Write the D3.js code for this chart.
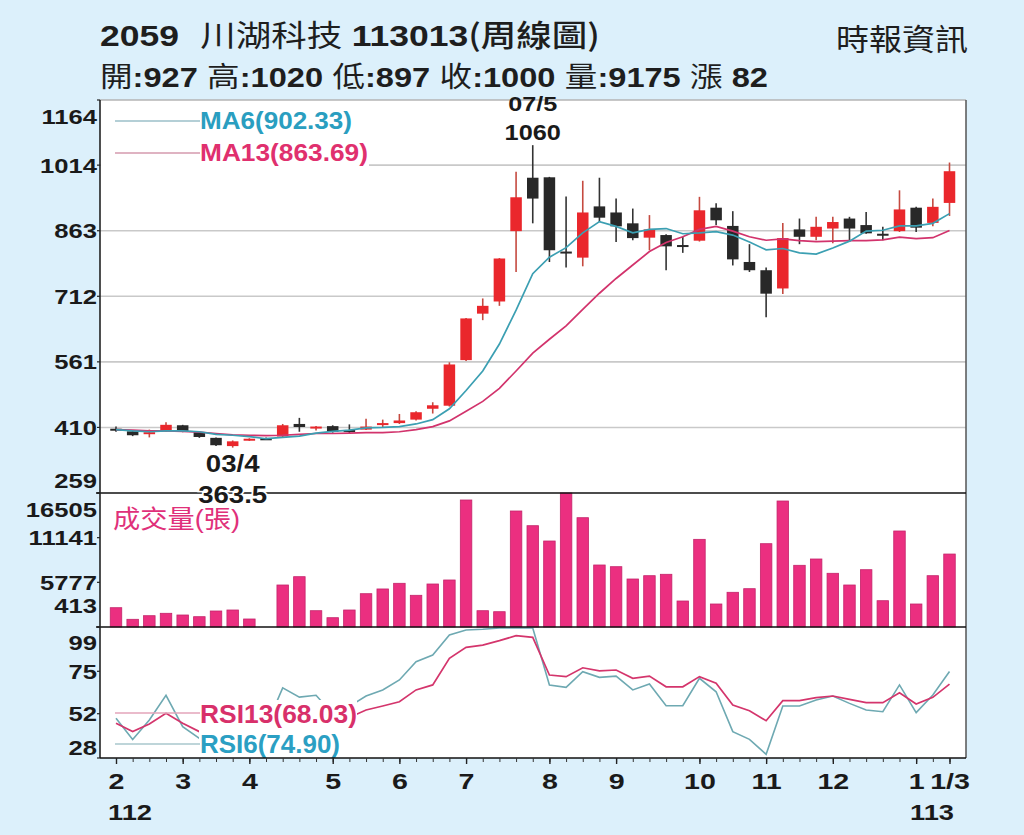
<!DOCTYPE html>
<html>
<head>
<meta charset="utf-8">
<script src="https://cdn.jsdelivr.net/npm/d3@7"></script>
<style>
  body { margin: 0; background: #dcf0fb; }
  svg { display: block; }
  text { font-family: "Liberation Sans", Arial, "Noto Sans CJK TC", sans-serif; }
</style>
</head>
<body>
<div id="chart"></div>
<script>
// weekly candles, Feb 2023 (112) .. Jan 2024 (113)
const weekOpen  = [407,401,396,401,415,399,386,367,380,385,389,418,409,413,403,405,416,420,428,453,460,565,672,700,862,985,986,815,801,919,905,880,847,853,830,840,916,874,791,772,730,866,849,868,891,876,856,862,916,881,927];
const weekHigh  = [412,403,405,422,416,400,387,380,385,387,418,432,413,415,417,430,428,441,447,468,560,662,707,800,999,1060,987,942,978,985,937,914,899,855,849,941,926,908,832,778,881,891,895,895,895,906,872,956,918,937,1020];
const weekLow   = [400,390,387,400,399,386,367,363.5,379,383,388,400,403,398,397,404,411,418,426,442,458,563,657,690,768,880,791,778,781,883,837,841,818,772,812,838,876,783,768,664,717,832,841,834,837,856,841,860,860,873,897];
const weekClose = [405,392,399,416,401,388,369,378,384,385,415,411,412,400,404,412,420,426,445,461,555,661,690,799,940,937,818,813,905,893,873,846,866,827,829,910,887,797,772,718,846,849,872,883,868,857,854,912,870,918,1000];

const ma6  = [405,402,400,402,402,400,394,392,389,384,387,390,397,401,404,409,410,412,418,428,453,495,540,602,680,764,802,824,858,884,873,858,866,868,856,858,861,853,837,819,822,812,809,823,839,862,864,874,874,880,902.33];
const ma13 = [405,404,402,402,401,399,396,393,392,391,392,394,396,396,397,398,398,400,405,412,425,447,470,500,540,581,613,644,682,719,753,784,815,836,849,866,873,862,849,841,844,840,838,839,840,840,842,848,845,847,863.69];

const volume = [2731,1337,1770,2058,1854,1650,2334,2454,1374,413,5457,6454,2370,1530,2454,4412,4980,5661,4220,5577,6058,15664,2370,2250,14343,12578,10740,16505,13539,7859,7655,6177,6574,6742,3535,10940,3175,4580,5013,10417,15544,7822,8579,6862,5457,7294,3571,11942,3175,6574,9175];

const rsi6  = [49.5,38,48.6,62,45,38.7,30,38,43,45,66,61,62,52,56,61.6,64.9,70.3,80.2,83.8,94.7,97.4,97.8,99.2,99.5,98.8,67.6,66.3,74.8,71.7,72.4,64.9,68.1,56.3,56.3,71.2,63.9,42.3,38.1,30,56.2,56.2,59.4,61.6,57.6,54,53.1,67.6,52.6,62.1,74.9];
const rsi13 = [46.8,42.3,46.4,52.2,46.8,42.3,38,41,43,44,52,51,51,49,50,54,56.2,58.5,64.9,67.6,82,88,89.2,91.6,94.3,93.4,73,72.1,76.9,75.2,75.7,71.2,72.4,66.6,66.6,72.1,68.5,56.7,53.6,48.2,59.1,59.1,60.7,61.6,59.8,58,58,63.4,57.3,60.9,68.03];

const priceTicks = [1164,1014,863,712,561,410,259];
const volTicks = [16505,11141,5777,413];
const rsiTicks = [99,75,52,28];
const monthIndex = [0,4,8,13,17,21,26,30,35,39,43,48,50];
const monthText  = ["2","3","4","5","6","7","8","9","10","11","12","1","1/3"];

// layout
const width = 1024, height = 835;
const left = 100, right = 966;
const priceTop = 100, priceBottom = 493, volBottom = 627, rsiBottom = 758;

const svg = d3.select("#chart").append("svg")
    .attr("width", width).attr("height", height);

// widen text to look like the reference's stretched type
function stretch(sel, k) {
    sel.each(function () {
        const L = this.getComputedTextLength();
        d3.select(this).attr("textLength", L * k).attr("lengthAdjust", "spacingAndGlyphs");
    });
}

const x = d3.scaleLinear().domain([0, weekClose.length - 1]).range([116, 949.5]);
const yPrice = d3.scaleLinear().domain([259, 1164]).range([priceBottom, priceTop]);
const yVol = d3.scaleLinear().domain([413, 16505]).range([volBottom, priceBottom]);
const yRsi = d3.scaleLinear().domain([28, 99]).range([rsiBottom, volBottom]);

// white plot area
svg.append("rect").attr("x", left).attr("y", priceTop)
    .attr("width", right - left).attr("height", rsiBottom - priceTop).attr("fill", "#fff");

// price gridlines
svg.append("g").selectAll("line")
    .data(priceTicks.filter(d => d > 259 && d < 1164))
    .join("line")
    .attr("x1", left).attr("x2", right)
    .attr("y1", d => yPrice(d)).attr("y2", d => yPrice(d))
    .attr("stroke", "#c9c9c9").attr("stroke-width", 1.6);

// candles
const cw = 11.5;
const candles = svg.append("g");
weekClose.forEach((c, i) => {
    const o = weekOpen[i];
    const up = c > o + 1;
    const col = up ? "#ea272c" : "#282828";
    candles.append("line")
        .attr("x1", x(i)).attr("x2", x(i))
        .attr("y1", yPrice(weekHigh[i])).attr("y2", yPrice(weekLow[i]))
        .attr("stroke", up ? "#c54a40" : "#333").attr("stroke-width", 1.6);
    const top = yPrice(Math.max(o, c)), bot = yPrice(Math.min(o, c));
    candles.append("rect")
        .attr("x", x(i) - cw / 2).attr("width", cw)
        .attr("y", top).attr("height", Math.max(bot - top, 2))
        .attr("fill", col);
});

// moving averages
const priceLine = d3.line().x((d, i) => x(i)).y(d => yPrice(d));
svg.append("path").datum(ma13).attr("d", priceLine)
    .attr("fill", "none").attr("stroke", "#d2336c").attr("stroke-width", 1.7);
svg.append("path").datum(ma6).attr("d", priceLine)
    .attr("fill", "none").attr("stroke", "#3b9fb2").attr("stroke-width", 1.7);

// MA legend
svg.append("rect").attr("x", left + 1).attr("y", priceTop + 1)
    .attr("width", 268).attr("height", 70).attr("fill", "#fff");
svg.append("line").attr("x1", 115).attr("x2", 200).attr("y1", 121).attr("y2", 121)
    .attr("stroke", "#9bbfc8").attr("stroke-width", 1.3);
svg.append("line").attr("x1", 115).attr("x2", 200).attr("y1", 153).attr("y2", 153)
    .attr("stroke", "#d59aae").attr("stroke-width", 1.3);
svg.append("text").attr("x", 200).attr("y", 129).text("MA6(902.33)")
    .attr("font-size", 24).attr("fill", "#2a9ec0").attr("font-weight", 600)
    .attr("textLength", 152).attr("lengthAdjust", "spacingAndGlyphs");
svg.append("text").attr("x", 200).attr("y", 161).text("MA13(863.69)")
    .attr("font-size", 24).attr("fill", "#e0306e").attr("font-weight", 600)
    .attr("textLength", 168).attr("lengthAdjust", "spacingAndGlyphs");

// volume bars
svg.append("g").selectAll("rect")
    .data(volume)
    .join("rect")
    .attr("x", (d, i) => x(i) - cw / 2).attr("width", cw)
    .attr("y", d => yVol(d)).attr("height", d => volBottom - yVol(d))
    .attr("fill", "#eb2f80").attr("stroke", "#c4246a").attr("stroke-width", 0.8);

svg.append("text").attr("x", 113).attr("y", 528).text("成交量(張)")
    .attr("font-size", 25).attr("fill", "#e0307a")
    .attr("font-family", "'Noto Sans CJK TC', sans-serif")
    .attr("textLength", 127).attr("lengthAdjust", "spacingAndGlyphs");

// RSI lines
const rsiLine = d3.line().x((d, i) => x(i)).y(d => Math.max(yRsi(d), volBottom + 1));
svg.append("path").datum(rsi6).attr("d", rsiLine)
    .attr("fill", "none").attr("stroke", "#6ea9b2").attr("stroke-width", 1.6);
svg.append("path").datum(rsi13).attr("d", rsiLine)
    .attr("fill", "none").attr("stroke", "#d4356c").attr("stroke-width", 1.7);

// RSI legend
svg.append("rect").attr("x", 199).attr("y", 700)
    .attr("width", 158).attr("height", rsiBottom - 701).attr("fill", "#fff");
svg.append("line").attr("x1", 115).attr("x2", 200).attr("y1", 713).attr("y2", 713)
    .attr("stroke", "#e3a5ba").attr("stroke-width", 1.3);
svg.append("line").attr("x1", 115).attr("x2", 200).attr("y1", 744).attr("y2", 744)
    .attr("stroke", "#a9c7cc").attr("stroke-width", 1.3);
svg.append("text").attr("x", 200).attr("y", 723).text("RSI13(68.03)")
    .attr("font-size", 25).attr("font-weight", "bold").attr("fill", "#d8306a")
    .attr("textLength", 157).attr("lengthAdjust", "spacingAndGlyphs");
svg.append("text").attr("x", 200).attr("y", 753).text("RSI6(74.90)")
    .attr("font-size", 25).attr("font-weight", "bold").attr("fill", "#2b9fc3")
    .attr("textLength", 140).attr("lengthAdjust", "spacingAndGlyphs");

// frame lines
svg.append("line").attr("x1", left).attr("x2", right).attr("y1", priceTop).attr("y2", priceTop)
    .attr("stroke", "#b5b5b5").attr("stroke-width", 1.5);
svg.append("line").attr("x1", right).attr("x2", right).attr("y1", priceTop).attr("y2", rsiBottom)
    .attr("stroke", "#555").attr("stroke-width", 1.5);
[priceBottom, volBottom].forEach(yy => {
    svg.append("line").attr("x1", 96).attr("x2", right).attr("y1", yy).attr("y2", yy)
        .attr("stroke", "#111").attr("stroke-width", 1.6);
});

// annotations: low and high
svg.append("text").attr("x", x(7)).attr("y", 472).text("03/4")
    .attr("text-anchor", "middle").attr("font-size", 23).attr("font-weight", "bold").attr("fill", "#1a1a1a")
    .call(stretch, 1.2);
svg.append("text").attr("x", x(7)).attr("y", 503).text("363.5")
    .attr("text-anchor", "middle").attr("font-size", 23).attr("font-weight", "bold").attr("fill", "#1a1a1a")
    .attr("stroke", "#fff").attr("stroke-width", 3).attr("paint-order", "stroke")
    .call(stretch, 1.2);
svg.append("text").attr("x", x(25)).attr("y", 111).text("07/5")
    .attr("text-anchor", "middle").attr("font-size", 21).attr("font-weight", "bold").attr("fill", "#1a1a1a")
    .call(stretch, 1.2);
svg.append("text").attr("x", x(25)).attr("y", 140).text("1060")
    .attr("text-anchor", "middle").attr("font-size", 22).attr("font-weight", "bold").attr("fill", "#1a1a1a")
    .call(stretch, 1.15);

// left axis line and labels
svg.append("line").attr("x1", left).attr("x2", left).attr("y1", priceTop).attr("y2", rsiBottom)
    .attr("stroke", "#222").attr("stroke-width", 1.6);

function yLabels(ticks, scale, lo, hi) {
    const g = svg.append("g");
    g.selectAll("line").data(ticks).join("line")
        .attr("x1", left - 3).attr("x2", left)
        .attr("y1", d => scale(d)).attr("y2", d => scale(d))
        .attr("stroke", "#222").attr("stroke-width", 1.2);
    g.selectAll("text").data(ticks).join("text")
        .attr("x", left - 3)
        .attr("y", d => Math.min(Math.max(scale(d), lo), hi))
        .attr("dy", "0.36em")
        .attr("text-anchor", "end")
        .attr("font-size", 21).attr("font-weight", "bold").attr("fill", "#1a1a1a")
        .text(d => d)
        .call(stretch, 1.22);
}
yLabels(priceTicks, yPrice, 116, 480);
yLabels(volTicks, yVol, 509, 605);
yLabels(rsiTicks, yRsi, 642, 747);

// bottom axis: a small tick every week, longer at month starts
const xg = svg.append("g").attr("transform", `translate(0,${rsiBottom})`);
xg.call(d3.axisBottom(x).tickValues(d3.range(weekClose.length)).tickSize(4).tickFormat(""));
xg.select(".domain").attr("stroke", "#111").attr("stroke-width", 1.6).attr("d", `M${left},0H${right}`);
xg.selectAll(".tick line").attr("stroke", "#333");
const mg = svg.append("g").attr("transform", `translate(0,${rsiBottom})`);
mg.call(d3.axisBottom(x).tickValues(monthIndex).tickSize(6)
    .tickFormat((d, i) => monthText[i]));
mg.select(".domain").remove();
mg.selectAll(".tick line").attr("stroke", "#222").attr("stroke-width", 1.4);
mg.selectAll(".tick text")
    .attr("y", 31).attr("dy", 0)
    .attr("font-size", 22).attr("font-weight", "bold").attr("fill", "#1a1a1a")
    .attr("font-family", "'Liberation Sans', Arial, sans-serif")
    .call(stretch, 1.3);

svg.append("text").attr("x", 108).attr("y", 820).text("112")
    .attr("font-size", 22).attr("font-weight", "bold").attr("fill", "#1a1a1a")
    .attr("textLength", 44).attr("lengthAdjust", "spacingAndGlyphs");
svg.append("text").attr("x", 910).attr("y", 820).text("113")
    .attr("font-size", 22).attr("font-weight", "bold").attr("fill", "#1a1a1a")
    .attr("textLength", 44).attr("lengthAdjust", "spacingAndGlyphs");

// header
const cjk = "'Noto Sans CJK TC', sans-serif";
const title = svg.append("text").attr("x", 100).attr("y", 46)
    .attr("font-size", 30).attr("fill", "#1e1e1e")
    .attr("textLength", 500).attr("lengthAdjust", "spacingAndGlyphs");
title.append("tspan").text("2059").attr("font-weight", "bold");
title.append("tspan").text("川湖科技").attr("dx", 18).attr("font-family", cjk);
title.append("tspan").text("113013").attr("dx", 8).attr("font-weight", "bold");
title.append("tspan").text("(周線圖)").attr("font-family", cjk).attr("font-weight", 500);

const quote = [["開", ":927"], ["高", ":1020"], ["低", ":897"], ["收", ":1000"], ["量", ":9175"], ["漲", " 82"]];
const sub = svg.append("text").attr("x", 100).attr("y", 87)
    .attr("font-size", 28).attr("fill", "#1e1e1e")
    .attr("textLength", 668).attr("lengthAdjust", "spacingAndGlyphs");
quote.forEach(([k, v], i) => {
    sub.append("tspan").text(k).attr("font-family", cjk).attr("dx", i ? 8 : 0);
    sub.append("tspan").text(v).attr("font-weight", "bold");
});

svg.append("text").attr("x", 836).attr("y", 50).text("時報資訊")
    .attr("font-size", 30).attr("fill", "#1e1e1e").attr("font-family", cjk)
    .attr("textLength", 132).attr("lengthAdjust", "spacingAndGlyphs");
</script>
</body>
</html>
